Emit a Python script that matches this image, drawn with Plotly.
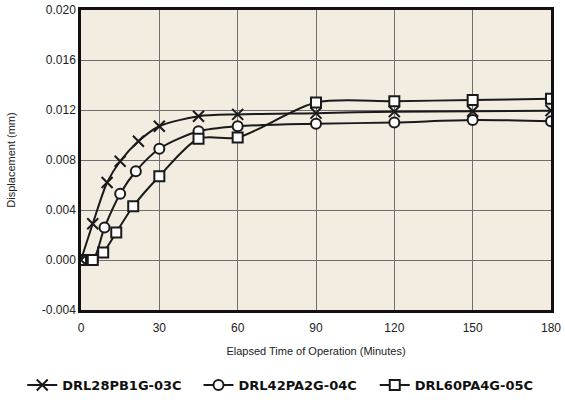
import plotly.graph_objects as go

names = ["DRL28PB1G-03C", "DRL42PA2G-04C", "DRL60PA4G-05C"]
x_a = [0, 4.5, 10, 15, 22, 30, 45, 60, 90, 120, 150, 180]
y_a = [0.0, 0.0029, 0.0062, 0.0079, 0.0095, 0.0107, 0.0115, 0.01165, 0.01175, 0.01187, 0.0119, 0.01195]
x_b = [0, 4.5, 9, 15, 21, 30, 45, 60, 90, 120, 150, 180]
y_b = [0.0, 0.0, 0.0026, 0.0053, 0.0071, 0.0089, 0.0103, 0.0107, 0.0109, 0.0110, 0.0112, 0.0111]
x_c = [0, 4.5, 8.5, 13.5, 20, 30, 45, 60, 90, 120, 150, 180]
y_c = [0.0, 0.0, 0.0006, 0.0022, 0.0043, 0.0067, 0.0097, 0.0098, 0.0126, 0.0127, 0.0128, 0.0129]

x_ticks = [0, 30, 60, 90, 120, 150, 180]
y_ticks = [-0.004, 0.000, 0.004, 0.008, 0.012, 0.016, 0.020]

fig = go.Figure()
fig.add_trace(go.Scatter(x=x_b, y=y_b, name=names[1], mode="lines+markers", legend="legend2",
                         line=dict(color="#1a1a1a", width=2, shape="spline", smoothing=0.8),
                         marker=dict(symbol="circle", size=10, color="white", line=dict(color="#1a1a1a", width=2))))
fig.add_trace(go.Scatter(x=x_c, y=y_c, name=names[2], mode="lines+markers", legend="legend3",
                         line=dict(color="#1a1a1a", width=2, shape="spline", smoothing=0.8),
                         marker=dict(symbol="square", size=10, color="white", line=dict(color="#1a1a1a", width=2))))
fig.add_trace(go.Scatter(x=x_a, y=y_a, name=names[0], mode="lines+markers", legend="legend",
                         line=dict(color="#1a1a1a", width=2, shape="spline", smoothing=0.8),
                         marker=dict(symbol="x-thin", size=11, color="#1a1a1a", line=dict(color="#1a1a1a", width=2))))

axfont = "Liberation Sans Narrow, Liberation Sans, Arial"
tickfont = dict(family=axfont, size=12, color="#222")
legfont = dict(family="DejaVu Sans", size=13, color="#111", weight="bold")

def leg(xf):
    return dict(orientation="h", x=xf, xanchor="left", y=-0.25, yanchor="middle",
                itemwidth=30, bgcolor="rgba(0,0,0,0)", font=legfont)

fig.update_layout(
    width=565, height=400,
    margin=dict(l=81, r=14, t=10, b=90, autoexpand=False),
    paper_bgcolor="white", plot_bgcolor="#F2ECE1",
    showlegend=True,
    legend=leg(-0.125),
    legend2=leg(0.25),
    legend3=leg(0.625),
    xaxis=dict(range=[0, 180], tickvals=x_ticks, ticktext=[str(v) for v in x_ticks],
               showgrid=True, gridcolor="#6e6e6e", gridwidth=1.2, automargin=False,
               showline=True, linecolor="#111", linewidth=2.5, mirror=True,
               ticks="", tickfont=tickfont, zeroline=False, ticklabelstandoff=5,
               title=dict(text="Elapsed Time of Operation (Minutes)", font=dict(family=axfont, size=11, color="#222"), standoff=14)),
    yaxis=dict(range=[-0.004, 0.020], tickvals=y_ticks, ticktext=[f"{v:.3f}" for v in y_ticks],
               showgrid=True, gridcolor="#6e6e6e", gridwidth=1.2, automargin=False,
               showline=True, linecolor="#111", linewidth=2.5, mirror=True,
               ticks="", tickfont=tickfont, zeroline=False,
               title=dict(text="Displacement (mm)", font=dict(family=axfont, size=11, color="#222"), standoff=24)),
)

fig.write_html("out.html", config={"displayModeBar": False},
               post_script="document.body.style.margin='0';")
